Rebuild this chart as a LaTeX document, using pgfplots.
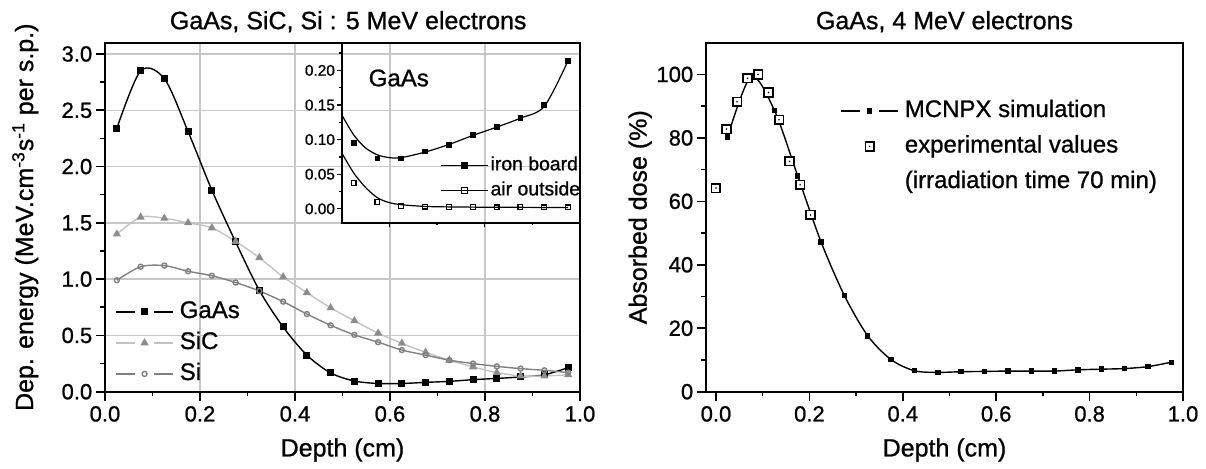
\documentclass[border=0pt]{standalone}
\usepackage{pgfplots}
\pgfplotsset{compat=1.18}
\usepackage{fontspec}
\setmainfont{Liberation Sans}[FakeBold=0.9]

\definecolor{sicline}{gray}{0.76}
\definecolor{sicmark}{gray}{0.55}
\definecolor{siline}{gray}{0.50}
\definecolor{gridc}{gray}{0.78}

\pgfdeclareplotmark{sqdot}{%
  \pgfpathrectangle{\pgfqpoint{-\pgfplotmarksize}{-\pgfplotmarksize}}{\pgfqpoint{2\pgfplotmarksize}{2\pgfplotmarksize}}%
  \pgfsetfillcolor{white}\pgfusepathqfillstroke
  \pgfpathcircle{\pgfpointorigin}{0.45pt}%
  \pgfsetfillcolor{black}\pgfusepathqfill}

\pgfplotsset{
  base/.style={scale only axis, axis line style={line width=1pt},
    tick align=outside, tick pos=left,
    tick style={black, line width=0.8pt},
    major tick length=4.5pt, minor tick length=2.3pt,
    tick label style={font=\fontsize{11}{12}\selectfont},
    xticklabel style={inner ysep=2.5pt},
    yticklabel style={inner xsep=1.7pt},
    label style={font=\fontsize{12.5}{14}\selectfont},
    title style={font=\fontsize{12.5}{14}\selectfont},
    /pgf/number format/assume math mode=true,
    legend cell align=left},
  gapleg/.style={legend image code/.code={
    \draw[##1,mark=none] (0pt,0pt) -- (9.5pt,0pt);
    \draw[##1,mark=none] (19pt,0pt) -- (28.5pt,0pt);
    \draw[##1,only marks] plot coordinates {(14.25pt,0pt)};}},
  markleg/.style={legend image code/.code={
    \draw[##1,only marks] plot coordinates {(14.25pt,0pt)};}},
  insetleg/.style={legend image code/.code={
    \draw[black,line width=0.6pt] (0pt,0pt) -- (23.5pt,0pt);
    \draw[##1,only marks,mark size=1.6pt] plot coordinates {(11.75pt,0pt)};}},
}

\begin{document}
\begin{tikzpicture}
\path[use as bounding box] (0,0) rectangle (603pt,234pt);

% ---------------- left main axis ----------------
\begin{axis}[base, at={(52.5pt,38.15pt)}, anchor=south west,
  width=237.5pt, height=174.5pt,
  xmin=0, xmax=1, ymin=0, ymax=3.1,
  xtick={0,0.2,0.4,0.6,0.8,1}, minor xtick={0.1,0.3,0.5,0.7,0.9},
  ytick={0,0.5,1,1.5,2,2.5,3}, minor ytick={0.25,0.75,1.25,1.75,2.25,2.75},
  xticklabel style={/pgf/number format/.cd,fixed,fixed zerofill,precision=1},
  yticklabel style={/pgf/number format/.cd,fixed,fixed zerofill,precision=1},
  grid=major, major grid style={draw=gridc, line width=0.7pt},
  title={GaAs, SiC, Si : 5 MeV electrons},
  title style={at={(axis description cs:0.512,1)}, anchor=center, yshift=4.5pt},
  xlabel={Depth (cm)},
  xlabel style={at={(axis description cs:0.5,-0.167)}, anchor=center},
  ylabel={Dep. energy (MeV.cm\textsuperscript{-3}s\textsuperscript{-1} per s.p.)},
  ylabel style={at={(axis description cs:-0.168,0.5)}, anchor=center},
  legend style={draw=none, fill=none, inner sep=0pt,
    font=\fontsize{12}{14}\selectfont,
    nodes={inner ysep=0pt, inner xsep=3pt, text height=8.6pt, text depth=2.5pt},
    row sep=4.4pt, at={(0.021,0.2616)}, anchor=north west},
]
\addplot[black, line width=0.7pt, smooth, mark=square*, mark size=1.4pt,
  mark options={solid}, gapleg] coordinates {
 (0.025,2.34) (0.075,2.85) (0.125,2.78) (0.175,2.31) (0.225,1.79)
 (0.275,1.33) (0.325,0.90) (0.375,0.575) (0.425,0.325) (0.475,0.167)
 (0.525,0.095) (0.575,0.073) (0.625,0.073) (0.675,0.083) (0.725,0.092)
 (0.775,0.107) (0.825,0.118) (0.875,0.131) (0.925,0.150) (0.975,0.214)};
\addlegendentry{GaAs}
\addplot[sicline, line width=0.7pt, smooth, mark=triangle*, mark size=1.7pt,
  mark options={draw=sicmark, fill=sicmark}, gapleg] coordinates {
 (0.025,1.40) (0.075,1.55) (0.125,1.54) (0.175,1.50) (0.225,1.455)
 (0.275,1.335) (0.325,1.19) (0.375,1.02) (0.425,0.88) (0.475,0.745)
 (0.525,0.63) (0.575,0.52) (0.625,0.43) (0.675,0.35) (0.725,0.28)
 (0.775,0.22) (0.825,0.17) (0.875,0.14) (0.925,0.14) (0.975,0.15)};
\addlegendentry{SiC}
\addplot[siline, line width=0.7pt, smooth, mark=o, mark size=1.25pt,
  mark options={draw=siline, fill=white}, gapleg] coordinates {
 (0.025,0.99) (0.075,1.11) (0.125,1.12) (0.175,1.07) (0.225,1.03)
 (0.275,0.97) (0.325,0.895) (0.375,0.80) (0.425,0.69) (0.475,0.59)
 (0.525,0.505) (0.575,0.44) (0.625,0.37) (0.675,0.325) (0.725,0.28)
 (0.775,0.25) (0.825,0.225) (0.875,0.205) (0.925,0.19) (0.975,0.17)};
\addlegendentry{Si}
\end{axis}

% ---------------- inset ----------------
\begin{axis}[base, at={(170.85pt,122.65pt)}, anchor=south west,
  width=119.15pt, height=90pt,
  xmin=0.5, xmax=1, ymin=-0.02, ymax=0.24,
  xtick={0.6,0.8,1}, minor xtick={0.7,0.9}, xticklabels={},
  ytick={0,0.05,0.1,0.15,0.2}, minor ytick={0.025,0.075,0.125,0.175,0.225},
  yticklabel style={font=\fontsize{7.7}{9}\selectfont, inner xsep=1pt,
    /pgf/number format/.cd,fixed,fixed zerofill,precision=2},
  major tick length=2.2pt, minor tick length=1.2pt,
  tick style={line width=0.6pt},
  legend style={draw=none, fill=none, inner sep=0pt,
    font=\fontsize{9.7}{11}\selectfont,
    nodes={inner ysep=0pt, inner xsep=1pt, text height=7pt, text depth=2pt},
    row sep=3.5pt, at={(0.4125,0.3706)}, anchor=north west},
]
\addplot[black, line width=0.6pt, smooth, forget plot] coordinates {
 (0.5,0.136) (0.525,0.107) (0.55,0.088) (0.575,0.078) (0.6,0.074)
 (0.625,0.074) (0.675,0.082) (0.725,0.093) (0.775,0.106) (0.825,0.118)
 (0.875,0.131) (0.925,0.148) (0.975,0.214)};
\addplot[black, line width=0.6pt, smooth, forget plot] coordinates {
 (0.5,0.081) (0.525,0.052) (0.55,0.031) (0.575,0.016) (0.6,0.009)
 (0.625,0.006) (0.675,0.0035) (0.725,0.0028) (0.775,0.0025) (0.825,0.0023)
 (0.875,0.0022) (0.925,0.002) (0.975,0.002)};
\addplot[black, only marks, mark=square*, mark size=1.2pt, insetleg] coordinates {
 (0.525,0.095) (0.575,0.073) (0.625,0.073) (0.675,0.083) (0.725,0.092)
 (0.775,0.107) (0.825,0.118) (0.875,0.131) (0.925,0.150) (0.975,0.214)};
\addlegendentry{iron board}
\addplot[black, only marks, mark=square, mark size=1.2pt, mark options={fill=white, line width=0.6pt}, insetleg] coordinates {
 (0.525,0.037) (0.575,0.0096) (0.625,0.0043) (0.675,0.0033) (0.725,0.003)
 (0.775,0.003) (0.825,0.002) (0.875,0.0024) (0.925,0.002) (0.975,0.002)};
\addlegendentry{air outside}
\node[anchor=west, font=\fontsize{12}{14}\selectfont] at (axis cs:0.542,0.189) {GaAs};
\end{axis}

% ---------------- right axis ----------------
\begin{axis}[base, at={(353pt,38.15pt)}, anchor=south west,
  width=238.5pt, height=174.5pt,
  xmin=-0.0214, xmax=1, ymin=0, ymax=110,
  xtick={0,0.2,0.4,0.6,0.8,1}, minor xtick={0.1,0.3,0.5,0.7,0.9},
  ytick={0,20,40,60,80,100}, minor ytick={10,30,50,70,90},
  xticklabel style={/pgf/number format/.cd,fixed,fixed zerofill,precision=1},
  title={GaAs, 4 MeV electrons},
  title style={at={(axis description cs:0.5,1)}, anchor=center, yshift=4.5pt},
  xlabel={Depth (cm)},
  xlabel style={at={(axis description cs:0.5,-0.167)}, anchor=center},
  ylabel={Absorbed dose (\%)},
  ylabel style={at={(axis description cs:-0.138,0.5)}, anchor=center},
  legend style={draw=none, fill=none, inner sep=0pt,
    font=\fontsize{12}{14}\selectfont,
    nodes={inner ysep=0pt, inner xsep=3pt, text height=8.6pt, text depth=2.5pt},
    row sep=6.65pt, at={(0.281,0.8375)}, anchor=north west},
]
\addplot[black, line width=0.7pt, smooth, mark=square*, mark size=1.0pt, gapleg] coordinates {
 (0.025,80.3) (0.075,99.3) (0.125,88.7) (0.175,68.0) (0.225,47.2)
 (0.275,30.3) (0.325,17.6) (0.375,10.1) (0.425,6.6) (0.475,6.1)
 (0.525,6.3) (0.575,6.4) (0.625,6.5) (0.675,6.5) (0.725,6.5)
 (0.775,6.9) (0.825,7.1) (0.875,7.3) (0.925,7.9) (0.975,9.3)};
\addlegendentry{MCNPX simulation}
\addplot[black, only marks, mark=sqdot, mark size=2.15pt, mark options={line width=0.8pt}, markleg] coordinates {
 (0,64.2) (0.0225,82.8) (0.045,91.4) (0.0675,98.8) (0.09,100)
 (0.1125,94.3) (0.135,85.7) (0.1575,72.6) (0.18,65.2) (0.2025,55.7)};
\addlegendentry{experimental values}
\addlegendimage{empty legend}
\addlegendentry{(irradiation time 70 min)}
\end{axis}
\end{tikzpicture}
\end{document}
